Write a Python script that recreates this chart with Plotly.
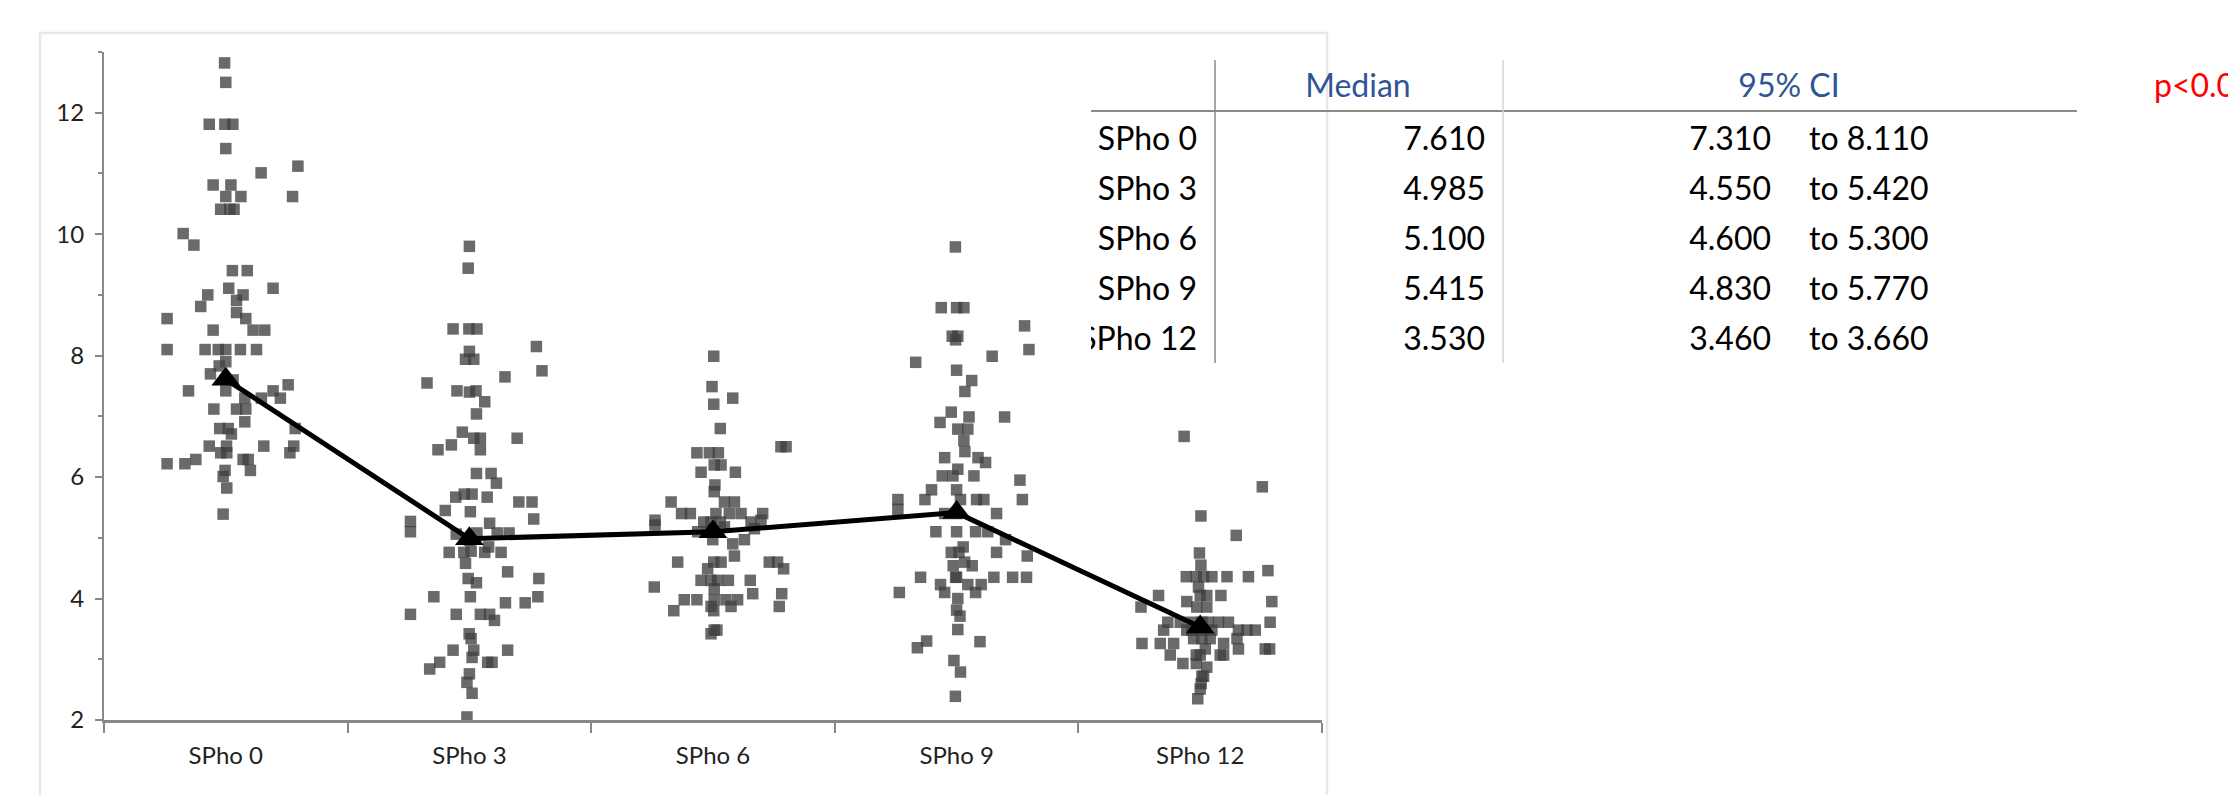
import plotly.graph_objects as go

W, H = 2228, 795

# ---------------- data ----------------
categories = ["SPho 0", "SPho 3", "SPho 6", "SPho 9", "SPho 12"]
medians = [7.610, 4.985, 5.100, 5.415, 3.530]
ci_low = [7.310, 4.550, 4.600, 4.830, 3.460]
ci_high = [8.110, 5.420, 5.300, 5.770, 3.660]
table_headers = ["Median", "95% CI"]
p_label = "p<0.001"

sph0_values = [12.82, 12.50, 11.81, 11.81, 11.81, 11.41, 11.12, 11.01, 10.81, 10.81, 10.62, 10.62, 10.62,
               10.41, 10.41, 10.41, 10.01, 9.82, 9.40, 9.40, 9.11, 9.11, 9.00, 9.00, 8.91, 8.81, 8.71, 8.61,
               8.61, 8.42, 8.42, 8.42, 8.10, 8.10, 8.10, 8.10, 8.10, 8.10, 7.90, 7.83, 7.70, 7.60, 7.42, 7.42,
               7.42, 7.52, 7.30, 7.30, 7.30, 7.12, 7.12, 7.12, 6.91, 6.80, 6.80, 6.71, 6.80, 6.51, 6.51, 6.51,
               6.51, 6.40, 6.40, 6.40, 6.22, 6.22, 6.29, 6.29, 6.29, 6.11, 6.11, 6.01, 5.82, 5.39]
sph0_jitter = [-0.005, 0.0, -0.068, -0.004, 0.029, 0.0, 0.296, 0.145, -0.052, 0.021, 0.274, 0.062, 0.0,
               -0.021, 0.016, 0.034, -0.175, -0.131, 0.027, 0.088, 0.012, 0.194, -0.074, 0.071, 0.044, -0.103,
               0.044, -0.241, 0.082, -0.052, 0.112, 0.160, -0.241, -0.085, -0.031, 0.0, 0.060, 0.126, 0.0,
               -0.027, -0.063, 0.030, -0.153, 0.0, 0.194, 0.256, 0.224, 0.146, 0.078, -0.049, 0.044, 0.082,
               0.078, -0.025, 0.010, 0.023, 0.285, -0.068, 0.003, 0.156, 0.279, 0.263, -0.021, 0.004, -0.241,
               -0.168, -0.123, 0.071, 0.092, 0.101, -0.003, -0.011, 0.004, -0.011]

sph3_values = [9.80, 9.44, 8.44, 8.44, 8.44, 8.15, 8.07, 7.94, 7.94, 7.75, 7.55, 7.65, 7.42, 7.40, 7.42, 7.24,
               7.04, 6.74, 6.64, 6.64, 6.64, 6.53, 6.45, 6.45, 6.06, 6.06, 5.90, 5.67, 5.72, 5.72, 5.67, 5.59,
               5.59, 5.45, 5.43, 5.27, 5.10, 5.31, 5.24, 5.06, 5.08, 5.08, 5.08, 4.96, 4.76, 4.76, 4.78, 4.76,
               4.85, 4.76, 4.58, 4.44, 4.33, 4.26, 4.33, 4.03, 4.03, 4.03, 3.93, 3.93, 3.74, 3.74, 3.74, 3.74,
               3.64, 3.42, 3.34, 3.15, 3.15, 3.03, 3.15, 2.95, 2.84, 2.95, 2.95, 2.76, 2.62, 2.44, 2.05]
sph3_jitter = [0.0, -0.005, -0.067, -0.002, 0.031, 0.275, 0.0, -0.016, 0.018, 0.298, -0.174, 0.146, -0.051,
               0.0, 0.027, 0.063, 0.029, -0.029, 0.018, 0.045, 0.196, -0.074, -0.129, 0.045, 0.029, 0.089,
               0.111, -0.056, -0.021, 0.011, 0.073, 0.203, 0.257, -0.099, 0.004, -0.242, -0.242, 0.264, 0.083,
               -0.054, 0.031, 0.114, 0.163, 0.0, -0.083, -0.023, 0.007, 0.063, 0.079, 0.130, -0.016, 0.157,
               -0.005, 0.029, 0.285, -0.146, 0.004, 0.281, 0.148, 0.229, -0.242, -0.054, 0.045, 0.083, 0.103,
               -0.001, 0.007, -0.067, 0.018, 0.011, 0.157, -0.122, -0.163, 0.075, 0.093, 0.0, -0.010, 0.011,
               -0.010]

sph6_values = [7.99, 7.49, 7.30, 7.20, 6.80, 6.40, 6.40, 6.40, 6.50, 6.50, 6.08, 6.20, 6.20, 6.08, 5.87, 5.76,
               5.59, 5.59, 5.59, 5.29, 5.21, 5.40, 5.40, 5.40, 5.40, 5.40, 5.40, 5.26, 5.26, 5.26, 5.26, 5.29,
               5.10, 5.10, 5.18, 5.15, 4.97, 4.97, 4.90, 4.70, 4.60, 4.60, 4.60, 4.60, 4.60, 4.49, 4.49, 4.30,
               4.30, 4.30, 4.30, 4.30, 4.19, 4.16, 4.08, 4.08, 3.98, 3.98, 3.98, 3.98, 3.98, 3.80, 3.87, 3.87,
               3.87, 3.80, 3.48, 3.48, 3.42]
sph6_jitter = [0.003, -0.004, 0.081, 0.003, 0.030, -0.066, -0.015, 0.022, 0.279, 0.300, -0.049, 0.005, 0.033,
               0.092, 0.008, 0.005, -0.172, 0.047, 0.088, -0.238, -0.238, -0.129, -0.093, 0.012, 0.067, 0.115,
               0.204, -0.038, -0.008, 0.030, 0.156, 0.197, -0.063, -0.019, 0.047, 0.170, -0.001, 0.129, 0.081,
               0.088, -0.145, 0.003, 0.033, 0.231, 0.265, 0.290, -0.022, -0.049, -0.008, 0.019, 0.063, 0.153,
               -0.241, 0.005, 0.163, 0.282, -0.118, -0.066, 0.005, 0.053, 0.101, -0.161, -0.008, 0.074, 0.272,
               0.003, 0.005, 0.016, -0.008]

sph9_values = [9.79, 8.79, 8.79, 8.79, 8.49, 8.32, 8.32, 8.26, 8.10, 7.99, 7.89, 7.76, 7.59, 7.41, 7.07, 6.90,
               6.99, 6.99, 6.79, 6.79, 6.60, 6.42, 6.32, 6.32, 6.24, 6.13, 6.02, 6.02, 6.02, 5.95, 5.79, 5.79,
               5.63, 5.63, 5.63, 5.63, 5.63, 5.63, 5.47, 5.40, 5.40, 5.40, 5.10, 5.10, 5.10, 5.10, 4.97, 4.85,
               4.76, 4.76, 4.76, 4.70, 4.60, 4.54, 4.54, 4.35, 4.35, 4.35, 4.35, 4.35, 4.35, 4.23, 4.23, 4.23,
               4.10, 4.10, 4.10, 4.00, 3.81, 3.71, 3.49, 3.30, 3.19, 3.29, 2.98, 2.79, 2.39]
sph9_jitter = [-0.005, -0.063, 0.0, 0.030, 0.279, -0.018, 0.005, -0.004, 0.297, 0.146, -0.168, 0.0, 0.062,
               0.034, -0.022, -0.068, 0.051, 0.197, 0.005, 0.046, 0.030, 0.034, -0.049, 0.088, 0.119, 0.005,
               -0.015, -0.059, 0.071, 0.260, 0.0, -0.103, -0.130, 0.016, 0.082, 0.112, 0.270, -0.241, -0.241,
               0.164, -0.049, 0.0, -0.085, 0.0, 0.078, 0.128, 0.201, 0.027, -0.022, 0.010, 0.164, 0.290, 0.033,
               -0.014, 0.064, -0.148, -0.004, 0.0, 0.153, 0.230, 0.287, -0.066, 0.046, 0.101, -0.235, -0.049,
               0.078, 0.005, 0.0, 0.014, 0.005, -0.123, -0.161, 0.096, -0.011, 0.016, -0.005]

sph12_values = [6.67, 5.84, 5.36, 5.04, 4.75, 4.55, 4.36, 4.36, 4.36, 4.36, 4.36, 4.36, 4.46, 4.05, 4.05, 4.05,
                4.05, 3.95, 3.95, 4.19, 3.86, 3.86, 3.86, 3.61, 3.61, 3.48, 3.61, 3.61, 3.61, 3.61, 3.61, 3.61,
                3.48, 3.48, 3.48, 3.48, 3.48, 3.48, 3.26, 3.26, 3.26, 3.34, 3.34, 3.34, 3.26, 3.34, 3.17, 3.17,
                3.17, 3.07, 2.93, 3.07, 3.17, 3.07, 3.07, 2.93, 2.72, 2.72, 2.60, 2.51, 2.35, 3.48, 3.07, 2.87]
sph12_jitter = [-0.066, 0.255, 0.003, 0.148, -0.003, 0.003, -0.057, -0.016, 0.014, 0.048, 0.110, 0.198, 0.278,
                -0.171, 0.0, 0.027, 0.085, -0.055, 0.294, -0.007, -0.243, -0.014, 0.027, -0.133, 0.287, -0.150,
                -0.082, -0.034, 0.007, 0.034, 0.075, 0.116, -0.055, 0.0, 0.048, 0.157, 0.192, 0.226, -0.239,
                -0.164, -0.109, -0.027, 0.007, 0.041, 0.096, 0.151, 0.157, 0.267, 0.285, -0.123, -0.071, 0.0,
                0.021, 0.082, 0.096, -0.016, 0.007, 0.014, 0.004, 0.0, -0.010, -0.034, -0.016, 0.027]

group_values = [sph0_values, sph3_values, sph6_values, sph9_values, sph12_values]
group_jitter = [sph0_jitter, sph3_jitter, sph6_jitter, sph9_jitter, sph12_jitter]

# ---------------- styling / layout constants ----------------
FONT = "Lato"
AXIS_COLOR = "#888888"
TEXT_COLOR = "#222222"
PT_COLOR = "rgba(64,64,64,0.78)"


def px_x(v):
    """screen pixel x -> paper fraction"""
    return v / W


def px_y(v):
    """screen pixel y -> paper fraction"""
    return 1 - v / H


fig = go.Figure()

for i, (vals, jit) in enumerate(zip(group_values, group_jitter)):
    fig.add_trace(go.Scatter(
        x=[i + j for j in jit], y=vals, mode="markers",
        marker=dict(symbol="square", size=11.5, color=PT_COLOR, line=dict(width=0)),
        showlegend=False, hoverinfo="skip", cliponaxis=False,
    ))

fig.add_trace(go.Scatter(
    x=list(range(len(categories))), y=medians, mode="lines+markers",
    line=dict(color="black", width=5),
    marker=dict(symbol="triangle-up", size=25, color="black"),
    showlegend=False, hoverinfo="skip", cliponaxis=False,
))

# ---------------- table (pixel-coordinate overlay subplot, clipped on the left) ----------------
T_LEFT = 1091
ROW_Y0, ROW_DY = 142, 50
HEAD_Y = 89
rows_y = [ROW_Y0 + k * ROW_DY for k in range(len(categories))]


def table_text(xs, ys, texts, pos, color="black"):
    fig.add_trace(go.Scatter(
        x=xs, y=ys, text=texts, mode="text", textposition=pos,
        textfont=dict(family=FONT, size=32, color=color),
        xaxis="x2", yaxis="y2", showlegend=False, hoverinfo="skip", cliponaxis=True,
    ))


table_text([1197] * len(categories), rows_y, categories, "middle left")
table_text([1485] * len(medians), rows_y, ["%.3f" % m for m in medians], "middle left")
table_text([1771] * len(ci_low), rows_y, ["%.3f" % c for c in ci_low], "middle left")
table_text([1809] * len(ci_high), rows_y, ["to %.3f" % c for c in ci_high], "middle right")
table_text([1358, 1789], [HEAD_Y, HEAD_Y], table_headers, "middle center", color="#2F5597")
table_text([2154], [HEAD_Y], [p_label], "middle right", color="#FF0000")

shapes = [
    # outer chart frame
    dict(type="rect", xref="paper", yref="paper", x0=px_x(40), x1=px_x(1327), y0=-0.2, y1=px_y(33),
         line=dict(color="#E8E8E8", width=2.5), fillcolor="rgba(0,0,0,0)", layer="below"),
    # table rules
    dict(type="line", xref="x2", yref="y2", x0=T_LEFT, x1=2077, y0=111, y1=111,
         line=dict(color="#8A8A8A", width=2.2)),
    dict(type="line", xref="x2", yref="y2", x0=1215, x1=1215, y0=60, y1=363,
         line=dict(color="#8A8A8A", width=1.5)),
    dict(type="line", xref="x2", yref="y2", x0=1503, x1=1503, y0=60, y1=363,
         line=dict(color="#D6D6D6", width=1.5)),
]

fig.update_layout(
    width=W, height=H, autosize=False,
    margin=dict(l=0, r=0, t=0, b=0, pad=0, autoexpand=False),
    paper_bgcolor="white", plot_bgcolor="rgba(0,0,0,0)",
    font=dict(family=FONT, color=TEXT_COLOR),
    shapes=shapes,
    xaxis=dict(
        domain=[px_x(104), px_x(1322)], range=[-0.5, len(categories) - 0.5],
        tickmode="array", tickvals=list(range(len(categories))), ticktext=categories,
        ticks="", showgrid=False, zeroline=False,
        showline=True, linecolor=AXIS_COLOR, linewidth=2.5,
        tickfont=dict(family=FONT, size=24, color=TEXT_COLOR),
        ticklabelstandoff=13, automargin=False,
        minor=dict(tickmode="array", tickvals=[k - 0.5 for k in range(len(categories) + 1)],
                   ticks="outside", ticklen=10, tickwidth=2, tickcolor=AXIS_COLOR, showgrid=False),
        anchor="y", fixedrange=True,
    ),
    yaxis=dict(
        domain=[px_y(720), px_y(52)], range=[2, 13],
        tickmode="array", tickvals=[2, 4, 6, 8, 10, 12],
        ticks="outside", ticklen=7, tickwidth=2, tickcolor=AXIS_COLOR,
        showgrid=False, zeroline=False,
        showline=True, linecolor=AXIS_COLOR, linewidth=2,
        tickfont=dict(family=FONT, size=24, color=TEXT_COLOR),
        ticklabelstandoff=6, automargin=False,
        minor=dict(tickmode="array", tickvals=[3, 5, 7, 9, 11, 13], ticks="outside", ticklen=4,
                   tickwidth=2, tickcolor=AXIS_COLOR, showgrid=False),
        anchor="x", fixedrange=True,
    ),
    xaxis2=dict(domain=[px_x(T_LEFT), 1], range=[T_LEFT, W], visible=False, anchor="y2", fixedrange=True),
    yaxis2=dict(domain=[0, 1], range=[H, 0], visible=False, anchor="x2", fixedrange=True),
)

# remove the browser's default page margin so the figure sits at the window's top-left corner
fig.write_html(
    "out.html",
    config={"displayModeBar": False, "staticPlot": True},
    post_script="document.body.style.margin='0px';document.documentElement.style.overflow='hidden';",
)
